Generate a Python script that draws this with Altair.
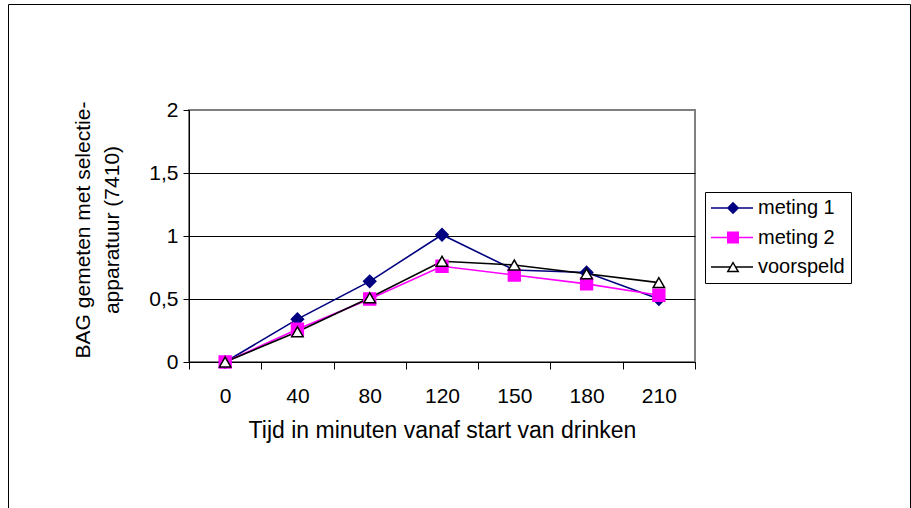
import altair as alt
import pandas as pd

# ---- data ----
tijd = ["0", "40", "80", "120", "150", "180", "210"]
meting_1 = [0.0, 0.34, 0.64, 1.01, 0.73, 0.71, 0.50]
meting_2 = [0.0, 0.26, 0.50, 0.76, 0.69, 0.62, 0.53]
voorspeld = [0.0, 0.24, 0.51, 0.80, 0.77, 0.70, 0.63]

series_names = ["meting 1", "meting 2", "voorspeld"]
line_colors = ["#000080", "#FF00FF", "#000000"]
marker_fills = ["#000080", "#FF00FF", "#FFFFFF"]
marker_strokes = ["#000080", "#FF00FF", "#000000"]
marker_shapes = ["diamond", "square", "triangle-up"]
marker_sizes = [150, 130, 160]
y_ticks = [0, 0.5, 1, 1.5, 2]

# legend symbols: line segment + marker (units of 10 px)
legend_paths = [
    "M0,-0.08H4.2V0.08H0Z M2.2,-0.62L2.82,0L2.2,0.62L1.58,0Z",
    "M0,-0.08H4.2V0.08H0Z M1.6,-0.6H2.8V0.6H1.6Z",
    "M0,-0.08H1.9V0.08H0Z M2.5,-0.08H4.2V0.08H2.5Z "
    "M2.2,-0.58L2.85,0.52L1.55,0.52Z M2.2,-0.29L1.81,0.37L2.59,0.37Z",
]

rows = []
for name, vals in zip(series_names, [meting_1, meting_2, voorspeld]):
    for i, (t, v) in enumerate(zip(tijd, vals)):
        rows.append({"tijd": t, "bag": v, "reeks": name, "volg": i})
df = pd.DataFrame(rows)

FONT = "Liberation Sans"

x_enc = alt.X(
    "tijd:O",
    sort=tijd,
    scale=alt.Scale(type="band", paddingInner=0, paddingOuter=0),
    axis=alt.Axis(
        title="Tijd in minuten vanaf start van drinken",
        labelAngle=0,
        labelFont=FONT,
        labelFontSize=21,
        labelColor="black",
        labelPadding=16,
        tickSize=7,
        tickBand="extent",
        tickColor="black",
        domainColor="black",
        grid=False,
        titleFont=FONT,
        titleFontSize=23,
        titleFontWeight="normal",
        titleColor="black",
        titleBaseline="alphabetic",
        titleY=75,
    ),
)

y_enc = alt.Y(
    "bag:Q",
    scale=alt.Scale(domain=[0, 2], nice=False),
    axis=alt.Axis(
        values=y_ticks,
        format=".1~f",
        labelExpr="replace(datum.label, '.', ',')",
        title=["BAG gemeten met selectie-", "apparatuur (7410)"],
        titleFont=FONT,
        titleFontSize=21,
        titleFontWeight="normal",
        titleColor="black",
        titleAngle=270,
        titleAlign="center",
        titleBaseline="alphabetic",
        titleX=-100,
        titleY=119.5,
        titleLineHeight=29.5,
        labelFont=FONT,
        labelFontSize=21,
        labelColor="black",
        labelPadding=5,
        tickSize=6,
        tickColor="black",
        domainColor="black",
        grid=True,
        gridColor={"condition": {"test": "datum.value >= 2", "value": "#808080"}, "value": "black"},
        gridWidth=1,
    ),
)

base = alt.Chart(df)

lines = base.mark_line(strokeWidth=1.6).encode(
    x=x_enc,
    y=y_enc,
    color=alt.Color("reeks:N", scale=alt.Scale(domain=series_names, range=line_colors), legend=None),
    order="volg:Q",
)

points = base.mark_point(filled=True, opacity=1, strokeWidth=1.5).encode(
    x=x_enc,
    y=y_enc,
    shape=alt.Shape("reeks:N", scale=alt.Scale(domain=series_names, range=marker_shapes), legend=None),
    fill=alt.Fill("reeks:N", scale=alt.Scale(domain=series_names, range=marker_fills), legend=None),
    stroke=alt.Stroke("reeks:N", scale=alt.Scale(domain=series_names, range=marker_strokes), legend=None),
    size=alt.Size("reeks:N", scale=alt.Scale(domain=series_names, range=marker_sizes), legend=None),
)

leg = alt.Legend(
    title=None,
    orient="none",
    legendX=516,
    legendY=82,
    padding=6,
    rowPadding=9.5,
    labelFont=FONT,
    labelFontSize=20,
    labelColor="black",
    labelOffset=37,
    symbolOffset=-10,
    symbolSize=400,
    symbolStrokeWidth=0,
    strokeColor="black",
    fillColor="white",
)

legend_layer = base.transform_filter("false").mark_point(filled=True, opacity=1).encode(
    color=alt.Color("reeks:N", scale=alt.Scale(domain=series_names, range=line_colors), legend=leg),
    shape=alt.Shape("reeks:N", scale=alt.Scale(domain=series_names, range=legend_paths), legend=leg),
)

frame = alt.Chart(alt.Data(values=[{"k": 1}])).mark_rect(
    fill="transparent", stroke="black", strokeWidth=1
).encode(
    x=alt.value(-180.5), y=alt.value(-105.5), x2=alt.value(721.5), y2=alt.value(430)
)

chart = (
    alt.layer(frame, lines, points, legend_layer)
    .resolve_scale(color="independent", shape="independent")
    .properties(
        width=506,
        height=252,
        padding={"left": 189, "top": 110, "right": 216, "bottom": 146},
        autosize=alt.AutoSizeParams(type="none"),
        background="white",
    )
    .configure_view(stroke="#808080", strokeWidth=2)
)

chart.save("out.html", embed_options={"renderer": "svg", "actions": False})
